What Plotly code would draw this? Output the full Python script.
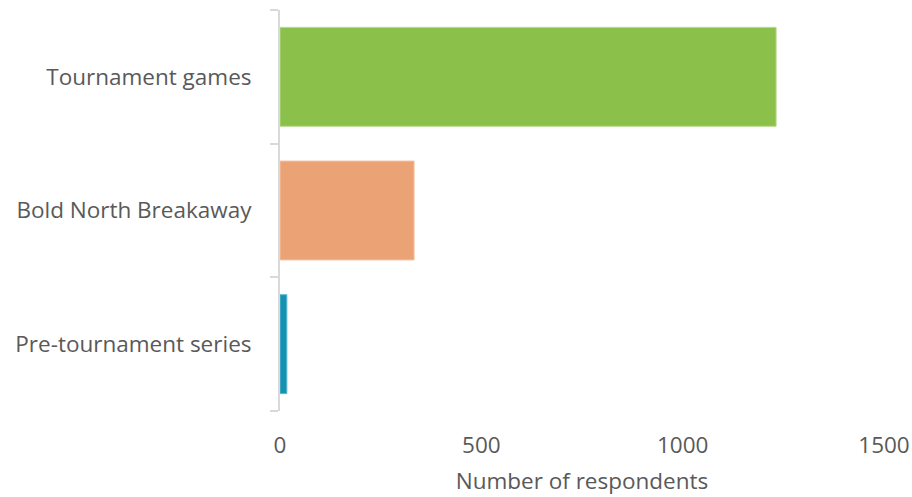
import plotly.graph_objects as go

categories = ["Pre-tournament series", "Bold North Breakaway", "Tournament games"]
values = [17, 333, 1232]
colors = ["#1492B2", "#EBA274", "#8BC14A"]
line_colors = ["#5FB6CC", "#F2C3A4", "#B3D88A"]
x_ticks = [0, 500, 1000, 1500]

fig = go.Figure(go.Bar(
    y=categories, x=values, orientation="h",
    marker=dict(color=colors, line=dict(color=line_colors, width=1)),
    width=0.74,
))

font_family = "Open Sans"
fs = 22.5
fig.update_layout(
    width=912, height=497,
    margin=dict(l=280, r=28, t=10, b=86),
    plot_bgcolor="white", paper_bgcolor="white",
    showlegend=False,
    font=dict(family=font_family, size=fs, color="#595959"),
    xaxis=dict(
        range=[0, 1500], tickvals=x_ticks, showgrid=False, zeroline=False,
        showline=False, ticks="", tickfont=dict(size=fs, color="#595959"),
        ticklabelstandoff=18, automargin=False,
        title=dict(text="Number of respondents", font=dict(size=fs, color="#595959"), standoff=14),
    ),
    yaxis=dict(
        showline=True, linecolor="#D9D9D9", linewidth=2,
        ticks="outside", tickson="boundaries", ticklen=8, tickcolor="#D9D9D9", tickwidth=2,
        tickfont=dict(size=fs, color="#595959"), showgrid=False, ticklabelstandoff=22,
        automargin=False,
    ),
)

fig.write_html("out.html")
